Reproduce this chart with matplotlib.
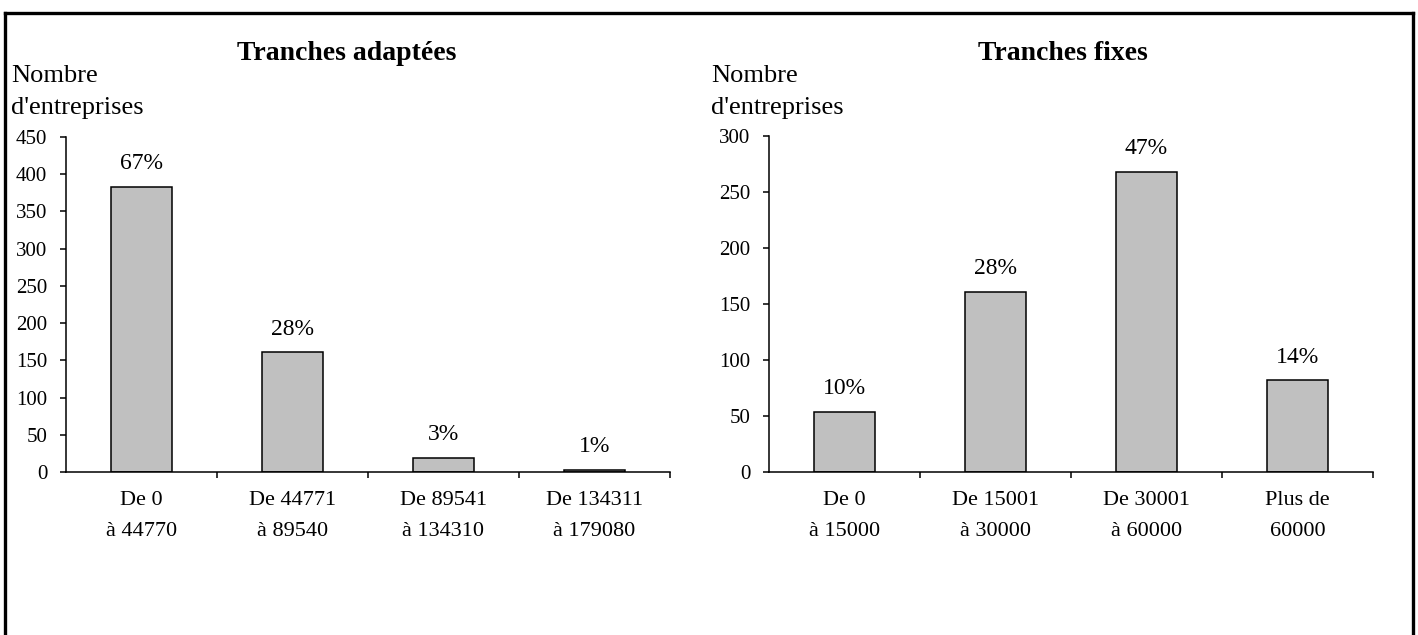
import matplotlib.pyplot as plt
from matplotlib.lines import Line2D

plt.rcParams['font.family'] = ['Liberation Serif', 'DejaVu Serif']

# Tranches adaptées
cats_adapt = ["De 0\nà 44770", "De 44771\nà 89540", "De 89541\nà 134310", "De 134311\nà 179080"]
vals_adapt = [383, 161, 19, 3]
pct_adapt = ["67%", "28%", "3%", "1%"]

# Tranches fixes
cats_fixes = ["De 0\nà 15000", "De 15001\nà 30000", "De 30001\nà 60000", "Plus de\n60000"]
vals_fixes = [54, 161, 268, 82]
pct_fixes = ["10%", "28%", "47%", "14%"]

fig = plt.figure(figsize=(14.18, 6.35), dpi=100)

def draw(ax, cats, vals, pcts, ymax, step):
    x = list(range(len(cats)))
    ax.bar(x, vals, width=0.41, color='#c0c0c0', edgecolor='black', linewidth=1.1)
    for xi, v, p in zip(x, vals, pcts):
        ax.annotate(p, (xi, v), xytext=(0, 9), textcoords='offset points',
                    ha='center', va='bottom', fontsize=17)
    ax.set_xlim(-0.5, len(cats) - 0.5)
    ax.set_ylim(0, ymax)
    ax.set_yticks(range(0, ymax + 1, step))
    ax.set_xticks([i + 0.5 for i in x])
    ax.set_xticklabels([])
    ax.set_xticks(x, minor=True)
    ax.set_xticklabels(cats, minor=True, fontsize=16, linespacing=1.82)
    ax.tick_params(axis='x', which='major', direction='out', length=4.5, width=1.1)
    ax.tick_params(axis='x', which='minor', length=0, pad=14)
    ax.tick_params(axis='y', direction='out', length=4.5, width=1.1, pad=9, labelsize=15)
    for s in ['top', 'right']:
        ax.spines[s].set_visible(False)
    for s in ['left', 'bottom']:
        ax.spines[s].set_linewidth(1.1)

ax1 = fig.add_axes([66 / 1418, 1 - 472 / 635, 604 / 1418, 335 / 635])
draw(ax1, cats_adapt, vals_adapt, pct_adapt, 450, 50)

ax2 = fig.add_axes([769 / 1418, 1 - 472 / 635, 604 / 1418, 336 / 635])
draw(ax2, cats_fixes, vals_fixes, pct_fixes, 300, 50)

fig.text(347 / 1418, 1 - 54 / 635, "Tranches adaptées", ha='center', va='center',
         fontsize=20, fontweight='bold')
fig.text(1063 / 1418, 1 - 54 / 635, "Tranches fixes", ha='center', va='center',
         fontsize=20, fontweight='bold')
fig.text(11 / 1418, 1 - 92 / 635, "Nombre\nd'entreprises", ha='left', va='center',
         fontsize=19, linespacing=1.58)
fig.text(711 / 1418, 1 - 92 / 635, "Nombre\nd'entreprises", ha='left', va='center',
         fontsize=19, linespacing=1.58)

# frame around the figure (bottom edge cut off)
top = 1 - 12.5 / 635
fig.add_artist(Line2D([5 / 1418, 1413 / 1418], [top, top], color='black', lw=2.4))
fig.add_artist(Line2D([5 / 1418, 5 / 1418], [0, top], color='black', lw=2.4))
fig.add_artist(Line2D([1413 / 1418, 1413 / 1418], [0, top], color='black', lw=2.4))

fig.savefig('out.png', dpi=100)
